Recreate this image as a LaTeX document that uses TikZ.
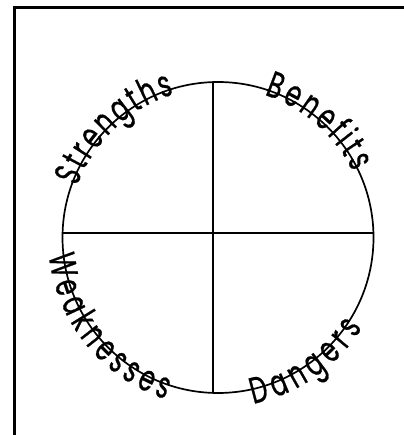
\documentclass[tikz,border=0pt]{standalone}
\usepackage{fontspec}
\setmainfont{Poppins}[FakeStretch=0.66, FakeBold=0.6]
\usetikzlibrary{decorations.text}
\tikzset{
  frameline/.style={line width=2.6pt, line cap=rect},
  quadline/.style={line width=1.7pt},
  arclabel/.style={decorate, decoration={text along path, text align=fit to path,
      text={|\fontsize{37}{37}\selectfont|#1}}},
}
\begin{document}
\begin{tikzpicture}[x=1pt,y=1pt]
\useasboundingbox (0,0) rectangle (403,-435);
\fill[white] (0,0) rectangle (403,-435);
% frame
\coordinate (fbl) at (14.5,-440);
\coordinate (ftl) at (14.5,-7.5);
\coordinate (ftr) at (410,-7.5);
\draw[frameline] (fbl) -- (ftl) -- (ftr);
% circle and quadrant lines
\coordinate (c) at (218,-237.5);
\draw[quadline] (c) circle[radius=155.5pt];
\coordinate (vt) at (213,-82.1);
\coordinate (vb) at (213,-392.9);
\coordinate (hl) at (62.6,-233);
\coordinate (hr) at (373.4,-233);
\draw[quadline] (vt) -- (vb);
\draw[quadline] (hl) -- (hr);
% labels along the circle
\path[arclabel={Strengths}] (c) ++(160:150pt) arc[start angle=160, end angle=107, radius=150pt];
\path[arclabel={Benefits}] (c) ++(72:150pt) arc[start angle=72, end angle=26, radius=150pt];
\path[arclabel={Weaknesses}] (c) ++(186:170pt) arc[start angle=186, end angle=252, radius=170pt];
\path[arclabel={Dangers}] (c) ++(-78:170pt) arc[start angle=-78, end angle=-32, radius=170pt];
\end{tikzpicture}
\end{document}
